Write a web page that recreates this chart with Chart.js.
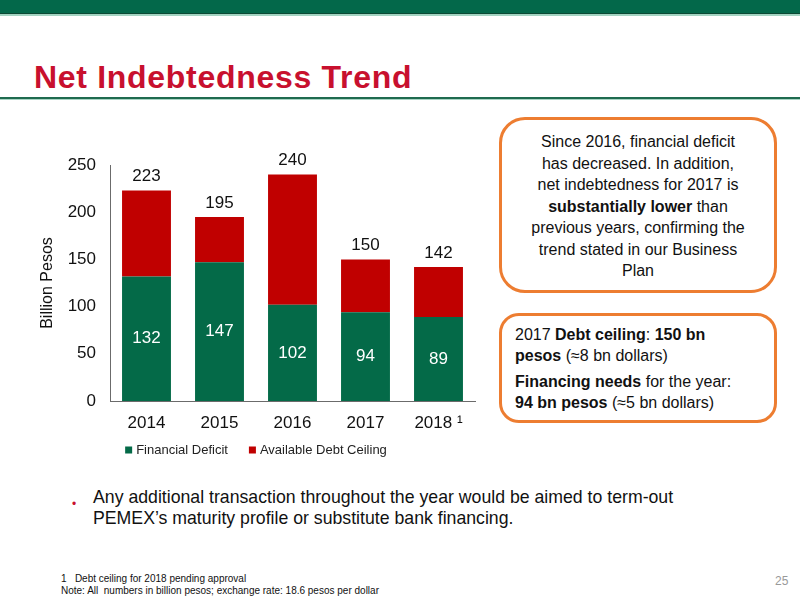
<!DOCTYPE html>
<html>
<head>
<meta charset="utf-8">
<script src="https://cdn.jsdelivr.net/npm/chart.js@4.4.0/dist/chart.umd.min.js"></script>
<style>
  body { margin: 0; width: 800px; height: 600px; position: relative; overflow: hidden; background: #fff;
         font-family: "Liberation Sans", Arial, sans-serif; color: #111; }
  .topbar { position: absolute; left: 0; top: 0; width: 800px; height: 13px; background: #03684a; border-bottom: 1px solid #0b4a34; }
  .topbar-light { position: absolute; left: 0; top: 14px; width: 800px; height: 2px; background: #a3d3c1; }
  h1 { position: absolute; left: 34px; top: 59px; margin: 0; font-size: 32px; letter-spacing: 0.7px;
       font-weight: bold; color: #c8102e; white-space: nowrap; }
  .rule { position: absolute; left: 0; top: 97px; width: 800px; height: 2px; background: #1f6b4f; }
  .rule-light { position: absolute; left: 0; top: 99px; width: 800px; height: 1px; background: #a9d4c4; }
  #chartBox { position: absolute; left: 30px; top: 140px; width: 452px; height: 330px; }
  .box { position: absolute; border: 3px solid #ed7d31; box-sizing: border-box; font-size: 16px; color: #111; }
  #box1 { left: 499px; top: 117px; width: 278px; height: 176px; border-radius: 26px;
          text-align: center; line-height: 21.5px; padding-top: 11px; }
  #box2 { left: 499px; top: 313px; width: 278px; height: 110px; border-radius: 20px;
          line-height: 21px; padding: 8px 0 0 13px; }
  #box2 p { margin: 0 0 5px 0; }
  .bullet { position: absolute; left: 72px; top: 497px; color: #c8102e; font-size: 12px; }
  .bullet-text { position: absolute; left: 93px; top: 487px; font-size: 17.7px; line-height: 21px; white-space: nowrap; }
  .foot { position: absolute; left: 61px; top: 573px; font-size: 10px; line-height: 12px; white-space: pre; color: #111; }
  .page { position: absolute; left: 775px; top: 574px; font-size: 12px; color: #999; }
</style>
</head>
<body>
<div class="topbar"></div>
<div class="topbar-light"></div>
<h1>Net Indebtedness Trend</h1>
<div class="rule"></div>
<div class="rule-light"></div>

<div id="chartBox"><canvas id="debtChart"></canvas></div>

<div class="box" id="box1">Since 2016, financial deficit<br>has decreased. In addition,<br>net indebtedness for 2017 is<br><b>substantially lower</b> than<br>previous years, confirming the<br>trend stated in our Business<br>Plan</div>
<div class="box" id="box2">
  <p>2017 <b>Debt ceiling</b>: <b>150 bn<br>pesos</b> (≈8 bn dollars)</p>
  <p><b>Financing needs</b> for the year:<br><b>94 bn pesos</b> (≈5 bn dollars)</p>
</div>

<div class="bullet">•</div>
<div class="bullet-text">Any additional transaction throughout the year would be aimed to term-out<br>PEMEX’s maturity profile or substitute bank financing.</div>

<div class="foot">1   Debt ceiling for 2018 pending approval
Note: All  numbers in billion pesos; exchange rate: 18.6 pesos per dollar</div>
<div class="page">25</div>

<script>
// chart data
const years = ['2014', '2015', '2016', '2017', '2018 \u00b9'];
const financialDeficit = [132, 147, 102, 94, 89];
const availableDebtCeiling = [91, 48, 138, 56, 53];
const totals = [223, 195, 240, 150, 142];
const yTicks = [0, 50, 100, 150, 200, 250];

const FONT = '"Liberation Sans", Arial, sans-serif';

// draws the value inside the green part and the total above each bar
const barLabels = {
    id: 'barLabels',
    afterDatasetsDraw(chart) {
        const ctx = chart.ctx;
        const green = chart.getDatasetMeta(0).data;
        const red = chart.getDatasetMeta(1).data;
        ctx.save();
        ctx.font = '17px ' + FONT;
        ctx.textAlign = 'center';
        ctx.textBaseline = 'middle';
        green.forEach((bar, i) => {
            ctx.fillStyle = '#ffffff';
            ctx.fillText(financialDeficit[i], bar.x, (bar.y + bar.base) / 2);
            ctx.fillStyle = '#111111';
            ctx.fillText(totals[i], red[i].x, red[i].y - 14);
        });
        ctx.restore();
    }
};

// small legend under the x labels, square markers
const bottomLegend = {
    id: 'bottomLegend',
    afterDraw(chart) {
        const ctx = chart.ctx;
        const sets = chart.data.datasets;
        const box = 7, gapText = 4, gapItem = 21;
        ctx.save();
        ctx.font = '13px ' + FONT;
        ctx.textBaseline = 'middle';
        const widths = sets.map(ds => box + gapText + ctx.measureText(ds.label).width);
        const total = widths.reduce((a, b) => a + b, 0) + gapItem * (sets.length - 1);
        let x = chart.width / 2 - total / 2;
        const y = chart.chartArea.bottom + 49;
        sets.forEach((ds, i) => {
            ctx.fillStyle = ds.backgroundColor;
            ctx.fillRect(x, y - box / 2, box, box);
            ctx.fillStyle = '#222';
            ctx.fillText(ds.label, x + box + gapText, y + 0.5);
            x += widths[i] + gapItem;
        });
        ctx.restore();
    }
};

const ctx = document.getElementById('debtChart').getContext('2d');
new Chart(ctx, {
    type: 'bar',
    data: {
        labels: years,
        datasets: [
            {
                label: 'Financial Deficit',
                data: financialDeficit,
                backgroundColor: '#046a48',
                barPercentage: 0.67,
                categoryPercentage: 1
            },
            {
                label: 'Available Debt Ceiling',
                data: availableDebtCeiling,
                backgroundColor: '#c00000',
                barPercentage: 0.67,
                categoryPercentage: 1
            }
        ]
    },
    options: {
        responsive: true,
        maintainAspectRatio: false,
        animation: false,
        layout: { padding: { top: 25, right: 7, bottom: 24.6, left: 0 } },
        plugins: {
            tooltip: { enabled: false },
            legend: { display: false }
        },
        scales: {
            x: {
                stacked: true,
                grid: { display: false, drawTicks: false },
                border: { display: true, color: '#6b6b6b' },
                ticks: { color: '#111', padding: 12, font: { family: FONT, size: 17 } }
            },
            y: {
                stacked: true,
                min: 0,
                max: 250,
                afterBuildTicks: (axis) => { axis.ticks = yTicks.map(v => ({ value: v })); },
                afterFit: (axis) => { axis.width = 80; },
                grid: { display: false, drawTicks: false },
                border: { display: true, color: '#6b6b6b' },
                ticks: { color: '#111', padding: 14, font: { family: FONT, size: 17 } },
                title: {
                    display: true,
                    text: 'Billion Pesos',
                    color: '#111',
                    padding: { top: 8, bottom: 0 },
                    font: { family: FONT, size: 16 }
                }
            }
        }
    },
    plugins: [barLabels, bottomLegend]
});
</script>
</body>
</html>
